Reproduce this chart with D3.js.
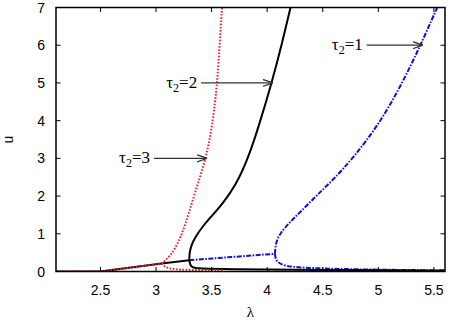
<!DOCTYPE html>
<html>
<head>
<meta charset="utf-8">
<script src="https://cdn.jsdelivr.net/npm/d3@7"></script>
<style>
  body { margin: 0; background: #fff; }
  svg { display: block; }
</style>
</head>
<body>
<div id="chart"></div>
<script>
const W = 451, H = 320;
const margin = { top: 7.5, right: 6, bottom: 48.5, left: 56 };

const xTicks = [2.5, 3, 3.5, 4, 4.5, 5, 5.5];
const yTicks = [0, 1, 2, 3, 4, 5, 6, 7];

// shared lower part (all three curves coincide here)
const commonBranch = [[2.1, 0], [2.5, 0], [3.05, 0.21]];

// tau2 = 3 (red dotted)
const tau3Upper = [[3.05, 0.21], [3.08, 0.28], [3.12, 0.4], [3.16, 0.55], [3.24, 1], [3.34, 2], [3.44, 2.9], [3.49, 3.6], [3.52, 4.2], [3.55, 5], [3.572, 6], [3.594, 7]];
const tau3Lower = [[3.05, 0.21], [3.08, 0.12], [3.14, 0.06], [3.3, 0.04], [3.6, 0.03]];

// tau2 = 2 (black solid)
const tau2Stem = [[3.05, 0.21], [3.3, 0.3]];
const tau2Upper = [[3.3, 0.3], [3.3, 0.4], [3.302, 0.5], [3.318, 0.7], [3.35, 0.9], [3.42, 1.2], [3.51, 1.5], [3.6, 1.8], [3.72, 2.3], [3.83, 3.0], [3.94, 4], [4.04, 5], [4.13, 6], [4.21, 7]];
const tau2Lower = [[3.3, 0.3], [3.305, 0.2], [3.32, 0.12], [3.36, 0.08], [3.6, 0.06], [4.5, 0.04], [5.6, 0.02]];

// tau2 = 1 (blue dash-dot)
const tau1Stem = [[3.3, 0.3], [4.07, 0.47]];
const tau1Upper = [[4.07, 0.47], [4.072, 0.6], [4.085, 0.83], [4.12, 1.02], [4.2, 1.3], [4.3, 1.58], [4.45, 2.03], [4.6, 2.45], [4.77, 3.0], [5.0, 3.88], [5.2, 4.9], [5.38, 6.0], [5.53, 7]];
const tau1Lower = [[4.07, 0.47], [4.075, 0.35], [4.09, 0.25], [4.15, 0.15], [4.3, 0.1], [4.7, 0.06], [5.2, 0.04], [5.6, 0.03]];

// label end (lambda), height u, arrow tip (lambda)
const tau1Label = { lam: 4.86, u: 6, tip: 5.4 };
const tau2Label = { lam: 3.37, u: 5, tip: 4.05 };
const tau3Label = { lam: 2.946, u: 3, tip: 3.46 };

const x = d3.scaleLinear().domain([2.1, 5.6]).range([margin.left, W - margin.right]);
const y = d3.scaleLinear().domain([0, 7]).range([H - margin.bottom, margin.top]);

const svg = d3.select("#chart").append("svg").attr("width", W).attr("height", H);

const defs = svg.append("defs");
defs.append("clipPath").attr("id", "clip")
  .append("rect")
  .attr("x", margin.left).attr("y", margin.top)
  .attr("width", W - margin.right - margin.left)
  .attr("height", H - margin.bottom - margin.top);

const marker = defs.append("marker")
  .attr("id", "arrow")
  .attr("viewBox", "0 0 10 10")
  .attr("refX", 10).attr("refY", 5)
  .attr("markerWidth", 10).attr("markerHeight", 10)
  .attr("markerUnits", "userSpaceOnUse")
  .attr("orient", "auto");
marker.append("path").attr("d", "M0,1.5 L10,5 L0,8.5").attr("fill", "none").attr("stroke", "#333").attr("stroke-width", 1.3);

const smooth = d3.line().x(d => x(d[0])).y(d => y(d[1])).curve(d3.curveBasis);
const straight = d3.line().x(d => x(d[0])).y(d => y(d[1]));

const plot = svg.append("g").attr("clip-path", "url(#clip)");

const styles = {
  red: { stroke: "#e8262a", width: 2, dash: "1.6,1.6" },
  black: { stroke: "#000", width: 2, dash: null },
  blue: { stroke: "#1010d0", width: 2, dash: "5,1.5,1.5,1.5" }
};

function draw(data, s, gen) {
  plot.append("path")
    .datum(data)
    .attr("fill", "none")
    .attr("stroke", s.stroke)
    .attr("stroke-width", s.width)
    .attr("stroke-dasharray", s.dash)
    .attr("d", gen);
}

draw(tau1Stem, styles.blue, straight);
draw(tau1Upper, styles.blue, smooth);
draw(tau1Lower, styles.blue, smooth);
draw(commonBranch, styles.black, straight);
draw(tau2Stem, styles.black, straight);
draw(tau2Upper, styles.black, smooth);
draw(tau2Lower, styles.black, smooth);
draw(commonBranch, styles.red, straight);
draw(tau3Upper, styles.red, smooth);
draw(tau3Lower, styles.red, smooth);

// frame
svg.append("rect")
  .attr("x", margin.left).attr("y", margin.top)
  .attr("width", W - margin.right - margin.left)
  .attr("height", H - margin.bottom - margin.top)
  .attr("fill", "none").attr("stroke", "#000").attr("stroke-width", 1.5);

// ticks (inside, mirrored)
const tickLen = 4.5;
const tk = svg.append("g").attr("stroke", "#000").attr("stroke-width", 1);
xTicks.forEach(v => {
  tk.append("line").attr("x1", x(v)).attr("x2", x(v)).attr("y1", y(0)).attr("y2", y(0) - tickLen);
  tk.append("line").attr("x1", x(v)).attr("x2", x(v)).attr("y1", y(7)).attr("y2", y(7) + tickLen);
});
yTicks.forEach(v => {
  tk.append("line").attr("x1", x(2.1)).attr("x2", x(2.1) + tickLen).attr("y1", y(v)).attr("y2", y(v));
  tk.append("line").attr("x1", x(5.6)).attr("x2", x(5.6) - tickLen).attr("y1", y(v)).attr("y2", y(v));
});

const font = "Liberation Sans, Arial, sans-serif";
const serif = "Liberation Serif, DejaVu Serif, Times New Roman, serif";

svg.append("g").selectAll("text").data(xTicks).join("text")
  .attr("x", d => x(d)).attr("y", 295)
  .attr("text-anchor", "middle")
  .attr("font-family", font).attr("font-size", 14)
  .text(d => d);

svg.append("g").selectAll("text").data(yTicks).join("text")
  .attr("x", 45).attr("y", d => y(d) + 5)
  .attr("text-anchor", "end")
  .attr("font-family", font).attr("font-size", 14)
  .text(d => d);

svg.append("text")
  .attr("transform", `translate(13, ${y(3.5)}) rotate(-90)`)
  .attr("text-anchor", "middle")
  .attr("font-family", font).attr("font-size", 14)
  .text("u");

svg.append("text")
  .attr("x", x(3.85)).attr("y", 317)
  .attr("text-anchor", "middle")
  .attr("font-family", serif).attr("font-size", 15)
  .text("λ");

// curve labels with arrows
function label(l, n) {
  const t = svg.append("text")
    .attr("x", x(l.lam)).attr("y", y(l.u) + 5)
    .attr("text-anchor", "end")
    .attr("font-family", serif)
    .attr("font-size", 17);
  t.append("tspan").text("τ");
  t.append("tspan").attr("font-size", 12).attr("dy", 4).text("2");
  t.append("tspan").attr("dy", -4).text("=" + n);
  svg.append("line")
    .attr("x1", x(l.lam) + 4).attr("x2", x(l.tip))
    .attr("y1", y(l.u)).attr("y2", y(l.u))
    .attr("stroke", "#333").attr("stroke-width", 1.2)
    .attr("marker-end", "url(#arrow)");
}
label(tau3Label, 3);
label(tau2Label, 2);
label(tau1Label, 1);
</script>
</body>
</html>
